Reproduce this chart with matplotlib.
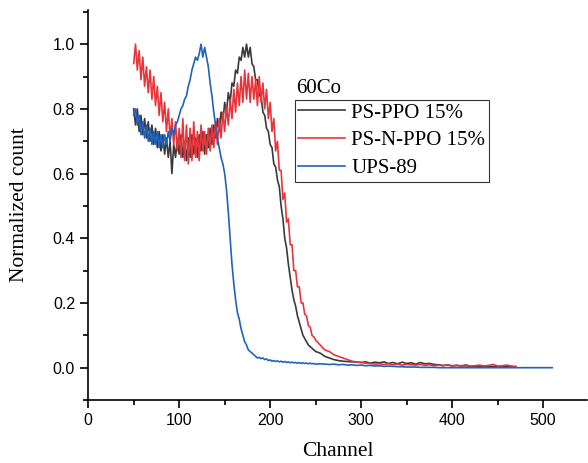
'''normalized spectra of three scintillators under 60Co
'''
import numpy as np
import matplotlib
matplotlib.use('Agg')
import matplotlib.pyplot as plt
from matplotlib.ticker import MultipleLocator

# channels 50..250 every 2, then tail every 5
ch_main = np.arange(50, 251, 2)

ps_ppo_main = [0.80, 0.75, 0.80, 0.73, 0.78, 0.72, 0.77, 0.71, 0.76, 0.70,
               0.75, 0.69, 0.74, 0.68, 0.73, 0.67, 0.72, 0.66, 0.71, 0.65,
               0.70, 0.60, 0.69, 0.65, 0.71, 0.66, 0.72, 0.65, 0.70, 0.64,
               0.71, 0.65, 0.72, 0.66, 0.71, 0.65, 0.72, 0.67, 0.73, 0.66,
               0.72, 0.68, 0.74, 0.69, 0.75, 0.71, 0.77, 0.73, 0.79, 0.76,
               0.82, 0.79, 0.85, 0.82, 0.88, 0.87, 0.92, 0.91, 0.96, 0.95,
               0.99, 0.96, 1.00, 0.96, 0.99, 0.94, 0.93, 0.89, 0.89, 0.84,
               0.84, 0.79, 0.78, 0.74, 0.73, 0.69, 0.68, 0.63, 0.62, 0.58,
               0.56, 0.50, 0.46, 0.40, 0.37, 0.32, 0.28, 0.24, 0.21, 0.19,
               0.16, 0.14, 0.12, 0.10, 0.09, 0.08, 0.07, 0.065, 0.06, 0.055,
               0.05]
ps_n_ppo_main = [0.94, 1.00, 0.92, 0.98, 0.89, 0.96, 0.87, 0.93, 0.85, 0.92,
                 0.83, 0.90, 0.81, 0.87, 0.78, 0.85, 0.76, 0.82, 0.73, 0.80,
                 0.71, 0.77, 0.69, 0.76, 0.67, 0.74, 0.65, 0.77, 0.64, 0.75,
                 0.63, 0.74, 0.64, 0.76, 0.65, 0.73, 0.64, 0.75, 0.67, 0.73,
                 0.66, 0.74, 0.67, 0.75, 0.68, 0.76, 0.69, 0.77, 0.71, 0.79,
                 0.73, 0.81, 0.75, 0.83, 0.77, 0.86, 0.79, 0.88, 0.81, 0.90,
                 0.82, 0.92, 0.83, 0.91, 0.82, 0.90, 0.83, 0.89, 0.81, 0.90,
                 0.82, 0.88, 0.80, 0.86, 0.77, 0.82, 0.73, 0.77, 0.67, 0.70,
                 0.61, 0.61, 0.52, 0.54, 0.45, 0.46, 0.38, 0.38, 0.30, 0.30,
                 0.25, 0.25, 0.20, 0.20, 0.165, 0.16, 0.13, 0.125, 0.10, 0.095,
                 0.085]
ups89_main = [0.78, 0.80, 0.75, 0.78, 0.72, 0.76, 0.71, 0.75, 0.70, 0.74,
              0.69, 0.73, 0.69, 0.73, 0.68, 0.72, 0.68, 0.72, 0.69, 0.73,
              0.70, 0.74, 0.72, 0.75, 0.76, 0.78, 0.80, 0.81, 0.83, 0.84,
              0.87, 0.89, 0.92, 0.94, 0.96, 0.95, 0.97, 1.00, 0.96, 0.99,
              0.96, 0.93, 0.88, 0.84, 0.79, 0.75, 0.71, 0.68, 0.65, 0.63,
              0.60, 0.55, 0.48, 0.40, 0.32, 0.26, 0.21, 0.17, 0.15, 0.12,
              0.10, 0.08, 0.07, 0.055, 0.05, 0.045, 0.04, 0.035, 0.03, 0.032,
              0.028, 0.03, 0.025, 0.027, 0.022, 0.024, 0.02, 0.022, 0.019, 0.021,
              0.018, 0.02, 0.017, 0.019, 0.016, 0.018, 0.015, 0.017, 0.015, 0.016,
              0.014, 0.016, 0.013, 0.015, 0.013, 0.014, 0.012, 0.014, 0.012, 0.013,
              0.011]

ch_tail_a = np.arange(255, 471, 5)
ps_ppo_tail = [0.045, 0.035, 0.03, 0.025, 0.022, 0.02, 0.019, 0.018, 0.017, 0.016,
               0.018, 0.014, 0.017, 0.015, 0.018, 0.013, 0.016, 0.012, 0.017, 0.013,
               0.015, 0.011, 0.016, 0.012, 0.013, 0.010, 0.009, 0.007, 0.008, 0.006,
               0.007, 0.005, 0.006, 0.004, 0.005, 0.004, 0.005, 0.003, 0.004, 0.003,
               0.004, 0.003, 0.003, 0.002]
ps_n_ppo_tail = [0.07, 0.055, 0.05, 0.04, 0.035, 0.03, 0.025, 0.02, 0.018, 0.016,
                 0.014, 0.013, 0.011, 0.012, 0.010, 0.012, 0.009, 0.011, 0.008, 0.010,
                 0.009, 0.008, 0.010, 0.007, 0.009, 0.006, 0.008, 0.006, 0.009, 0.005,
                 0.007, 0.006, 0.009, 0.005, 0.006, 0.008, 0.005, 0.007, 0.010, 0.005,
                 0.006, 0.008, 0.005, 0.004]

ch_tail_b = np.arange(255, 511, 5)
ups89_tail = [0.012, 0.011, 0.010, 0.011, 0.009, 0.010, 0.008, 0.009, 0.007, 0.008,
              0.006, 0.007, 0.005, 0.006, 0.004, 0.005, 0.004, 0.003, 0.003, 0.002,
              0.002, 0.002, 0.001, 0.001, 0.001, 0.001, 0.0, 0.0, 0.0, 0.0,
              0.0, 0.0, 0.0, 0.0, 0.0, 0.0, 0.0, 0.0, 0.0, 0.0,
              0.0, 0.0, 0.0, 0.0, 0.0, 0.0, 0.0, 0.0, 0.0, 0.0,
              0.0, 0.0]

labels = ['PS-PPO 15%', 'PS-N-PPO 15%', 'UPS-89']
colors = ['#3a3a3a', '#e8353b', '#1f63c0']

serif = 'Liberation Serif'
sans = 'Liberation Sans'

fig = plt.figure(figsize=(5.88, 4.63), dpi=100)
ax = fig.add_axes([0.150, 0.136, 0.848, 0.842])

series = [
    (np.concatenate([ch_main, ch_tail_a]), ps_ppo_main + ps_ppo_tail),
    (np.concatenate([ch_main, ch_tail_a]), ps_n_ppo_main + ps_n_ppo_tail),
    (np.concatenate([ch_main, ch_tail_b]), ups89_main + ups89_tail),
]
for (x, y), lab, c in zip(series, labels, colors):
    ax.plot(x, y, color=c, linewidth=1.2, label=lab)

ax.set_xlim(0, 548)
ax.set_ylim(-0.1, 1.105)
ax.xaxis.set_major_locator(MultipleLocator(100))
ax.xaxis.set_minor_locator(MultipleLocator(50))
ax.yaxis.set_major_locator(MultipleLocator(0.2))
ax.yaxis.set_minor_locator(MultipleLocator(0.1))
ax.set_yticks(np.arange(0, 1.01, 0.2))
ax.yaxis.set_major_formatter(plt.FormatStrFormatter('%.1f'))
for s in ['top', 'right']:
    ax.spines[s].set_visible(False)
for s in ['left', 'bottom']:
    ax.spines[s].set_linewidth(1.2)
ax.tick_params(which='major', direction='out', length=6, width=1.2, labelsize=11.5)
ax.tick_params(which='minor', direction='out', length=3.5, width=1.2)
for t in ax.get_xticklabels() + ax.get_yticklabels():
    t.set_fontfamily(sans)

ax.set_xlabel('Channel', fontsize=15.5, family=serif, labelpad=10)
ax.set_ylabel('Normalized count', fontsize=15.5, family=serif, labelpad=17)

ax.text(0.417, 0.775, '60Co', transform=ax.transAxes, fontsize=15,
        family=serif, ha='left', va='bottom')
leg = ax.legend(loc='upper left', bbox_to_anchor=(0.415, 0.77),
                prop={'family': serif, 'size': 15}, frameon=True, fancybox=False,
                edgecolor='black', handlelength=2.25, handletextpad=0.3,
                labelspacing=0.4, borderpad=0.15, borderaxespad=0)
leg.get_frame().set_linewidth(0.8)

plt.savefig('out.png', dpi=100)
